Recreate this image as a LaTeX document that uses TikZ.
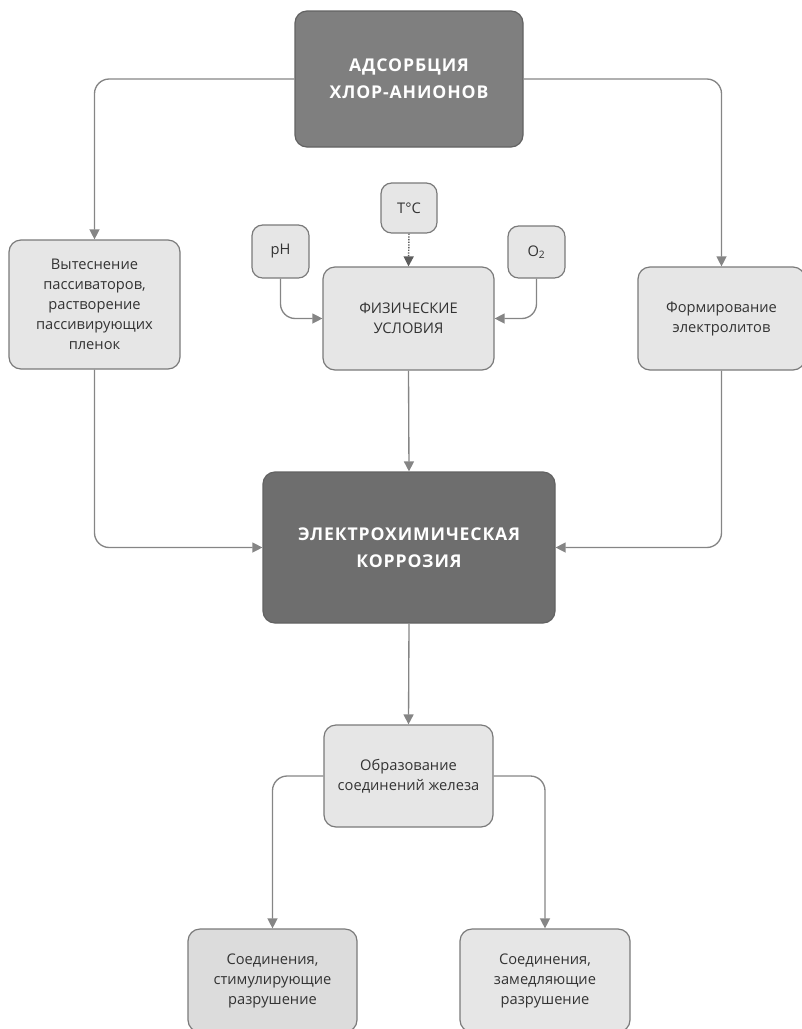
\documentclass[tikz,border=0pt]{standalone}
\usepackage{fontspec}
\setmainfont{Open Sans}
\usetikzlibrary{arrows.meta}

\definecolor{linegray}{HTML}{858585}
\definecolor{boxline}{HTML}{7A7A7A}
\definecolor{lightfill}{HTML}{E6E6E6}
\definecolor{lightfill2}{HTML}{DCDCDC}
\definecolor{darkfill}{HTML}{7F7F7F}
\definecolor{darkerfill}{HTML}{6E6E6E}
\definecolor{txtgray}{HTML}{333333}

\tikzset{
  lightbox/.style={draw=boxline, fill=lightfill, rounded corners=9pt, line width=0.9pt,
    align=center, text=txtgray, font=\fontsize{11}{15}\selectfont, inner sep=2pt},
  darkbox/.style={draw=boxline!80!black, fill=darkfill, rounded corners=9pt, line width=0.9pt,
    align=center, text=white, font=\fontsize{13.2}{20}\selectfont\addfontfeature{LetterSpace=5}, inner sep=2pt},
  conn/.style={draw=linegray, line width=1pt, rounded corners=11pt,
    -{Triangle[length=7.5pt,width=7.5pt]}},
}

\begin{document}
\begin{tikzpicture}[x=0.75pt,y=0.75pt,yscale=-1,xscale=1]
\clip (0,0) rectangle (802,1029);
\useasboundingbox (0,0) rectangle (802,1029);

% top
\node [darkbox, minimum width=171pt, minimum height=102pt] (adsorb) at (409,79)
  {\bfseries АДСОРБЦИЯ\\\bfseries ХЛОР-АНИОНОВ};

% second row
\node [lightbox, minimum width=128.25pt, minimum height=96.75pt] (vyt) at (94.5,304.5)
  {Вытеснение\\пассиваторов,\\растворение\\пассивирующих\\пленок};
\node [lightbox, minimum width=125.25pt, minimum height=77.25pt] (form) at (721.5,318.5)
  {Формирование\\электролитов};

% physical conditions
\node [lightbox, rounded corners=8pt, minimum width=42.75pt, minimum height=39.75pt] (ph) at (280.5,251.5) {pH};
\node [lightbox, rounded corners=8pt, minimum width=42pt, minimum height=37.5pt] (temp) at (409,208) {T°C};
\node [lightbox, rounded corners=8pt, minimum width=42.75pt, minimum height=39pt] (oxy) at (536.5,252) {O\textsubscript{2}};
\node [lightbox, minimum width=128.25pt, minimum height=77.25pt] (phys) at (408.5,318.5)
  {ФИЗИЧЕСКИЕ\\УСЛОВИЯ};

% center
\node [darkbox, fill=darkerfill, minimum width=219pt, minimum height=113.25pt] (corr) at (409,547.5)
  {\bfseries ЭЛЕКТРОХИМИЧЕСКАЯ\\\bfseries КОРРОЗИЯ};

% lower part
\node [lightbox, minimum width=126.75pt, minimum height=76.5pt] (obr) at (408.5,776)
  {Образование\\соединений железа};
\node [lightbox, fill=lightfill2, minimum width=126.75pt, minimum height=77.25pt] (stim) at (272.5,980.5)
  {Соединения,\\стимулирующие\\разрушение};
\node [lightbox, minimum width=127.5pt, minimum height=77.25pt] (zam) at (545,980.5)
  {Соединения,\\замедляющие\\разрушение};

% connectors
\draw [conn] (adsorb.west) -| (vyt.north);
\draw [conn] (adsorb.east) -| (form.north);
\draw [conn] (vyt.south) |- (corr.west);
\draw [conn] (form.south) |- (corr.east);
\draw [conn] (ph.south) |- (phys.west);
\draw [conn] (oxy.south) |- (phys.east);
\draw [conn, draw=linegray!70!black, densely dotted, line width=1.1pt] (temp.south) -- (phys.north);
\draw [conn] (phys.south) -- (corr.north);
\draw [conn] (corr.south) -- (obr.north);
\draw [conn] (obr.west) -| (stim.north);
\draw [conn] (obr.east) -| (zam.north);

\end{tikzpicture}
\end{document}
